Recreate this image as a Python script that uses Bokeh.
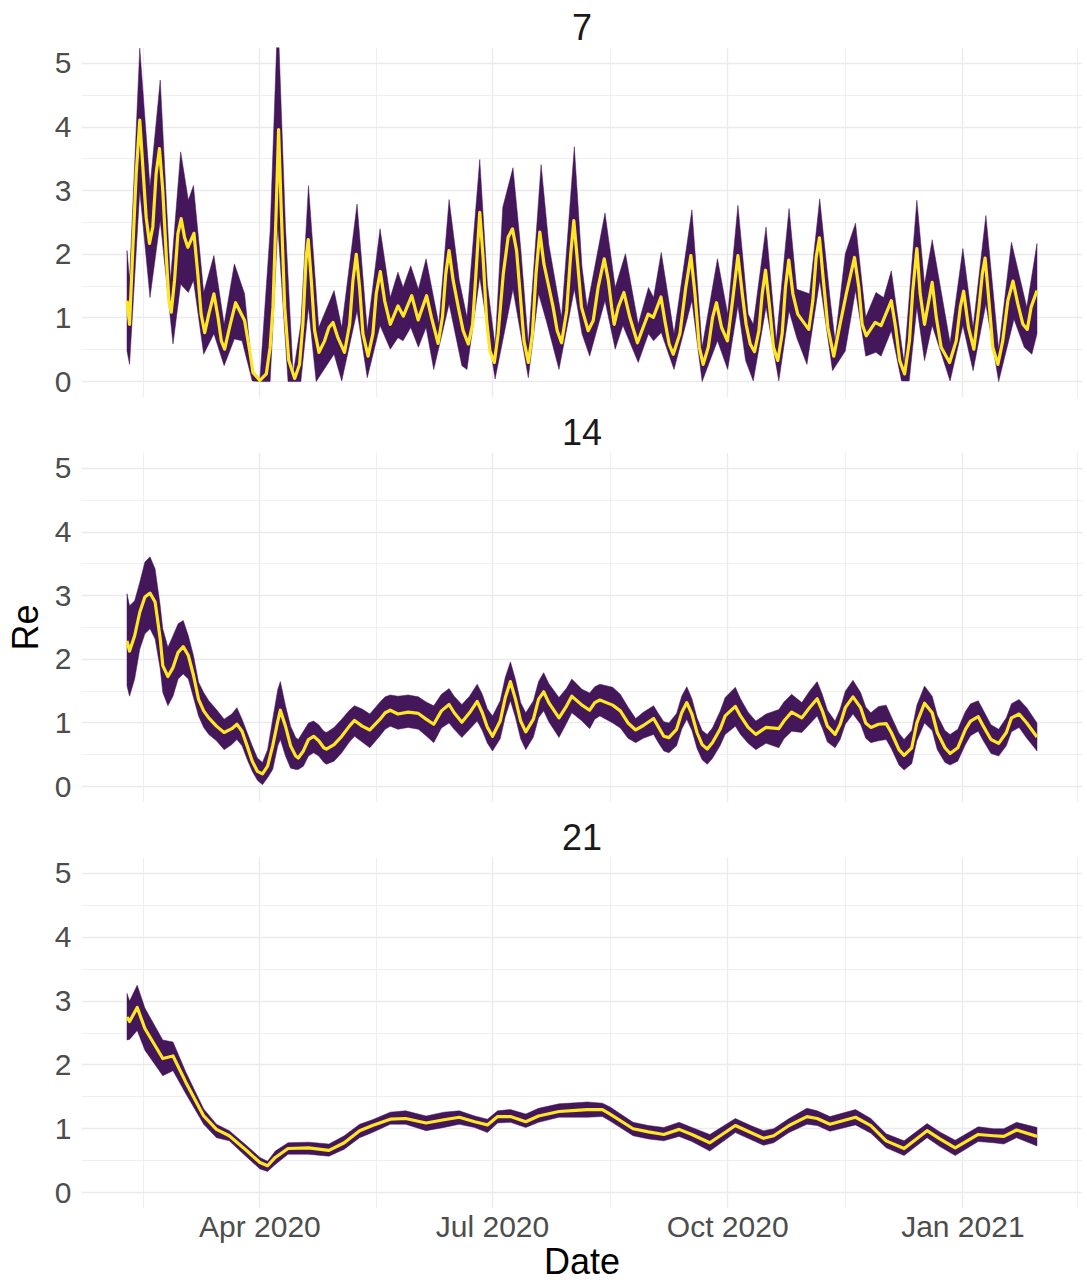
import pandas as pd
from bokeh.plotting import figure
from bokeh.layouts import column
from bokeh.models import Range1d, FixedTicker, DatetimeTickFormatter
from bokeh.embed import file_html
from bokeh.resources import INLINE

# Day offsets are days relative to BASE_DATE
BASE_DATE = "2020-04-01"
PANELS = ["7", "14", "21"]

# ---- window 7 ----
w7_med_days = [-52.0, -51.0, -49.7, -48.4, -47.0, -45.8, -44.5, -43.2, -41.9, -40.6, -39.3, -38.0, -36.6, -35.6, -34.7,
               -33.4, -32.1, -30.8, -29.5, -28.2, -25.8, -24.3, -23.0, -21.6, -20.0, -18.0, -16.4, -15.1, -13.8, -11.9,
               -9.5, -6.0, -4.0, -2.7, 0.0, 2.5, 4.0, 5.1, 6.4, 7.3, 8.3, 9.7, 11.3, 13.6, 15.5,
               16.8, 18.1, 18.9, 20.1, 21.4, 23.1, 25.3, 27.0, 28.6, 30.5, 33.1, 35.1, 36.4, 37.7, 39.0,
               40.3, 42.3, 44.2, 45.5, 47.1, 48.8, 51.0, 54.0, 56.1, 59.4, 61.9, 65.2, 67.1, 69.7, 71.4,
               72.7, 74.0, 75.6, 77.6, 79.5, 81.5, 83.2, 84.5, 86.0, 87.3, 88.7, 90.0, 91.7, 93.2, 95.2,
               97.1, 98.8, 100.4, 101.7, 103.3, 105.0, 106.6, 108.0, 109.5, 111.1, 112.8, 114.7, 116.3, 118.0, 120.0,
               121.6, 122.8, 124.1, 125.8, 128.4, 130.4, 132.3, 134.7, 136.3, 137.6, 138.6, 140.2, 142.4, 144.7, 147.7,
               149.9, 151.9, 153.9, 156.9, 158.4, 160.1, 161.7, 164.3, 166.6, 168.6, 170.2, 171.9, 173.4, 175.4, 177.1,
               178.6, 180.6, 182.9, 184.9, 187.0, 188.7, 190.2, 191.8, 193.5, 195.2, 196.5, 197.8, 199.4, 200.9, 202.6,
               204.3, 205.6, 206.9, 208.5, 210.4, 212.7, 214.7, 216.3, 217.6, 218.9, 220.2, 222.2, 224.5, 226.7, 229.4,
               232.6, 234.3, 235.6, 237.2, 240.7, 243.0, 247.0, 248.7, 250.3, 252.2, 254.1, 255.4, 257.0, 258.3, 260.0,
               263.0, 264.6, 266.5, 269.8, 272.4, 274.0, 275.3, 277.2, 279.3, 281.3, 282.6, 283.7, 285.2, 286.7, 288.7,
               290.6, 292.6, 294.6, 296.5, 298.5, 300.2, 301.7, 304.0]
w7_med_vals = [1.27, 0.90, 2.11, 3.27, 4.11, 3.37, 2.58, 2.17, 2.43, 3.27, 3.66, 3.00, 1.95, 1.27, 1.09,
               1.59, 2.32, 2.56, 2.27, 2.11, 2.33, 1.69, 1.06, 0.77, 1.06, 1.38, 1.01, 0.64, 0.51, 0.85,
               1.24, 0.96, 0.48, 0.14, 0.02, 0.12, 0.54, 1.17, 2.74, 3.96, 2.74, 1.17, 0.33, 0.05, 0.27,
               0.90, 1.95, 2.23, 1.59, 0.80, 0.46, 0.64, 0.85, 0.93, 0.69, 0.46, 0.90, 1.59, 2.00, 1.48,
               0.75, 0.40, 0.75, 1.38, 1.73, 1.27, 0.90, 1.19, 1.03, 1.35, 0.97, 1.35, 1.01, 0.60, 1.01,
               1.69, 2.06, 1.59, 1.17, 0.80, 0.59, 0.90, 1.69, 2.66, 1.95, 0.96, 0.48, 0.30, 0.75, 1.69,
               2.27, 2.40, 2.06, 1.43, 0.64, 0.30, 0.75, 1.69, 2.35, 1.85, 1.53, 1.17, 0.80, 0.61, 1.11,
               2.01, 2.53, 1.95, 1.17, 0.80, 0.96, 1.48, 1.93, 1.59, 1.17, 0.90, 1.17, 1.40, 1.01, 0.61,
               0.85, 1.06, 1.01, 1.33, 0.96, 0.59, 0.43, 0.75, 1.48, 1.98, 1.38, 0.54, 0.27, 0.54, 1.01,
               1.24, 0.85, 0.64, 1.27, 1.98, 1.38, 0.90, 0.59, 0.47, 0.80, 1.38, 1.75, 1.17, 0.54, 0.33,
               0.75, 1.48, 1.91, 1.38, 1.06, 0.93, 0.82, 1.27, 1.95, 2.26, 1.69, 0.85, 0.40, 0.85, 1.38,
               1.95, 1.48, 0.90, 0.72, 0.93, 0.88, 1.27, 0.85, 0.33, 0.12, 0.64, 1.43, 2.09, 1.38, 0.90,
               1.56, 1.01, 0.54, 0.30, 0.64, 1.17, 1.42, 0.85, 0.51, 1.17, 1.69, 1.94, 1.27, 0.54, 0.27,
               0.64, 1.27, 1.58, 1.22, 0.90, 0.82, 1.17, 1.43]
w7_up_days = [-52, -51, -47, -43, -39, -35, -31, -28, -26, -22, -18, -14, -10, -6, -3, 0, 4, 7, 10, 13, 16, 19, 23, 29, 32, 38, 42, 47, 51, 54, 56, 59, 62, 65, 70, 74, 78, 81, 86, 89, 92, 95, 99, 102, 105, 110, 113, 118, 123, 126, 128, 135, 139, 143, 148, 152, 154, 157, 162, 169, 173, 179, 183, 187, 191, 193, 198, 202, 207, 210, 215, 219, 223, 225, 229, 233, 237, 241, 244, 247, 252, 257, 260, 263, 270, 275, 279, 284, 289, 294, 300, 304]
w7_up_vals = [2.06, 1.60, 5.24, 3.06, 4.74, 1.59, 3.61, 2.85, 3.08, 1.40, 1.98, 0.90, 1.85, 1.38, 0.17, 0.04, 2.37, 5.80, 2.43, 0.12, 0.90, 3.08, 0.85, 1.43, 0.85, 2.79, 0.80, 2.40, 1.32, 1.72, 1.48, 1.82, 1.45, 1.93, 0.90, 2.86, 1.59, 1.01, 3.49, 1.53, 0.56, 2.74, 3.36, 2.11, 0.59, 3.41, 2.16, 1.01, 3.69, 1.80, 1.17, 2.65, 1.48, 2.01, 0.90, 1.48, 1.32, 2.03, 0.75, 2.70, 0.54, 1.93, 1.06, 2.77, 1.06, 0.90, 2.43, 0.64, 2.72, 1.45, 1.38, 2.87, 1.32, 0.64, 2.01, 2.49, 1.01, 1.40, 1.32, 1.74, 0.30, 2.85, 1.53, 2.23, 0.61, 2.09, 0.85, 2.61, 0.51, 2.19, 1.17, 2.17]
w7_lo_days = [-52, -51, -47, -43, -39, -34, -31, -28, -26, -22, -18, -14, -10, -7, -3, 0, 4, 7, 11, 16, 19, 22, 29, 32, 38, 42, 47, 51, 54, 56, 59, 62, 65, 68, 74, 79, 81, 86, 92, 99, 105, 109, 112, 117, 123, 126, 129, 135, 139, 142, 148, 152, 154, 157, 162, 169, 173, 179, 183, 187, 190, 193, 198, 203, 207, 210, 214, 219, 224, 229, 233, 237, 241, 243, 247, 251, 254, 257, 260, 263, 270, 275, 279, 284, 289, 295, 299, 302, 304]
w7_lo_vals = [0.48, 0.27, 3.00, 1.32, 2.53, 0.59, 1.53, 1.40, 1.59, 0.43, 0.75, 0.25, 0.67, 0.64, 0.01, 0.00, 0.00, 2.45, 0.00, 0.00, 1.17, 0.00, 0.43, 0.01, 1.11, 0.06, 0.88, 0.51, 0.69, 0.64, 0.85, 0.54, 0.85, 0.19, 1.22, 0.25, 0.19, 1.64, 0.04, 1.45, 0.06, 1.38, 0.96, 0.19, 1.45, 0.75, 0.40, 1.27, 0.51, 0.88, 0.30, 0.75, 0.64, 0.77, 0.19, 1.27, 0.00, 0.64, 0.19, 1.19, 0.33, 0.01, 1.17, 0.01, 1.11, 0.69, 0.27, 1.59, 0.17, 0.48, 1.43, 0.40, 0.46, 0.40, 0.80, 0.01, 0.01, 1.17, 0.33, 0.88, 0.01, 0.88, 0.17, 1.22, 0.00, 0.98, 0.54, 0.43, 0.75]

# ---- window 14 (median, upper and lower read on the same days) ----
w14_days = [-52, -51, -49, -47, -45, -43, -41, -39, -38, -36, -34, -32, -30, -28, -26, -24, -22, -20, -17, -14,
            -11, -9, -7, -5, -3, -1, 1, 3, 5, 7, 8, 10, 12, 14, 15, 17, 19, 21, 23, 25,
            26, 29, 32, 35, 37, 40, 43, 47, 49, 51, 54, 58, 62, 65, 68, 71, 74, 76, 79, 82,
            85, 87, 89, 91, 94, 96, 98, 100, 102, 104, 107, 109, 111, 113, 117, 120, 122,
            126, 129, 131, 133, 138, 141, 144, 147, 150, 154, 156, 158, 160, 163, 165, 167, 169, 171, 173, 175,
            177, 180, 182, 186, 188, 191, 194, 198, 203, 205, 208, 212, 215, 218, 220, 222, 225, 227, 229, 232,
            235, 237, 239, 242, 245, 247, 250, 252, 255, 257, 260, 263, 265, 268, 270, 273, 276, 278, 281, 283,
            286, 289, 292, 294, 297, 300, 304]
w14_med_vals = [2.29, 2.13, 2.37, 2.74, 2.98, 3.04, 2.90, 2.32, 1.90, 1.73, 1.87, 2.11, 2.20, 2.06, 1.75, 1.37, 1.19, 1.08, 0.95, 0.85,
                0.91, 0.98, 0.87, 0.64, 0.40, 0.24, 0.20, 0.32, 0.64, 1.03, 1.20, 0.95, 0.64, 0.48, 0.45, 0.56, 0.74, 0.79, 0.72, 0.61,
                0.59, 0.66, 0.79, 0.95, 1.04, 0.95, 0.89, 1.06, 1.16, 1.20, 1.14, 1.17, 1.15, 1.06, 0.98, 1.19, 1.29, 1.16, 1.01, 1.16,
                1.34, 1.16, 0.93, 0.79, 1.03, 1.40, 1.65, 1.37, 1.03, 0.86, 1.06, 1.37, 1.49, 1.32, 1.08, 1.27, 1.42,
                1.28, 1.20, 1.32, 1.36, 1.28, 1.19, 1.00, 0.89, 0.96, 1.07, 0.93, 0.79, 0.77, 0.90, 1.16, 1.32, 1.14, 0.85, 0.66, 0.59,
                0.69, 0.90, 1.11, 1.26, 1.11, 0.93, 0.82, 0.93, 0.91, 1.03, 1.17, 1.08, 1.24, 1.38, 1.19, 0.95, 0.82, 0.98, 1.24, 1.41,
                1.24, 1.00, 0.93, 0.98, 0.99, 0.85, 0.58, 0.49, 0.61, 1.00, 1.31, 1.16, 0.85, 0.61, 0.52, 0.61, 0.90, 1.03, 1.10, 0.95,
                0.74, 0.68, 0.85, 1.08, 1.14, 1.00, 0.78]
w14_up_vals = [3.03, 2.84, 2.92, 3.21, 3.53, 3.61, 3.42, 2.84, 2.48, 2.19, 2.37, 2.56, 2.61, 2.37, 2.06, 1.64, 1.48, 1.35, 1.21, 1.06,
               1.14, 1.24, 1.06, 0.85, 0.64, 0.45, 0.38, 0.58, 1.06, 1.53, 1.65, 1.27, 0.95, 0.77, 0.74, 0.87, 1.00, 1.03, 0.97, 0.87,
               0.85, 0.93, 1.06, 1.20, 1.27, 1.22, 1.14, 1.33, 1.41, 1.44, 1.42, 1.44, 1.41, 1.33, 1.27, 1.45, 1.54, 1.42, 1.29, 1.42,
               1.61, 1.45, 1.22, 1.11, 1.35, 1.72, 1.96, 1.68, 1.32, 1.16, 1.35, 1.65, 1.79, 1.62, 1.40, 1.55, 1.69,
               1.53, 1.47, 1.57, 1.61, 1.56, 1.45, 1.25, 1.07, 1.17, 1.27, 1.14, 1.02, 1.00, 1.15, 1.42, 1.57, 1.38, 1.08, 0.88, 0.82,
               0.92, 1.18, 1.40, 1.56, 1.38, 1.17, 1.03, 1.14, 1.21, 1.33, 1.45, 1.32, 1.50, 1.65, 1.45, 1.20, 1.03, 1.22, 1.50, 1.67,
               1.48, 1.25, 1.16, 1.26, 1.28, 1.10, 0.84, 0.74, 0.88, 1.28, 1.58, 1.42, 1.12, 0.88, 0.82, 0.90, 1.18, 1.30, 1.35, 1.20,
               0.97, 0.90, 1.08, 1.30, 1.37, 1.24, 1.00]
w14_lo_vals = [1.58, 1.42, 1.69, 2.16, 2.40, 2.48, 2.32, 1.85, 1.48, 1.27, 1.42, 1.69, 1.77, 1.69, 1.40, 1.11, 0.93, 0.82, 0.72, 0.58,
               0.66, 0.74, 0.64, 0.43, 0.24, 0.10, 0.03, 0.14, 0.27, 0.64, 0.74, 0.48, 0.29, 0.27, 0.27, 0.32, 0.48, 0.53, 0.48, 0.38,
               0.35, 0.40, 0.53, 0.70, 0.79, 0.70, 0.61, 0.80, 0.90, 0.95, 0.90, 0.93, 0.90, 0.80, 0.69, 0.92, 1.00, 0.90, 0.77, 0.90,
               1.03, 0.88, 0.68, 0.56, 0.75, 1.10, 1.35, 1.08, 0.75, 0.58, 0.78, 1.08, 1.19, 1.02, 0.77, 1.00, 1.16,
               1.03, 0.91, 1.06, 1.11, 1.00, 0.92, 0.76, 0.69, 0.76, 0.82, 0.68, 0.56, 0.53, 0.64, 0.90, 1.06, 0.88, 0.60, 0.42, 0.35,
               0.44, 0.64, 0.82, 0.95, 0.82, 0.68, 0.58, 0.68, 0.61, 0.75, 0.87, 0.85, 0.98, 1.11, 0.92, 0.70, 0.61, 0.74, 0.98, 1.14,
               0.98, 0.76, 0.69, 0.72, 0.74, 0.60, 0.34, 0.26, 0.36, 0.72, 1.00, 0.88, 0.58, 0.38, 0.34, 0.40, 0.66, 0.80, 0.87, 0.72,
               0.52, 0.48, 0.64, 0.86, 0.93, 0.76, 0.56]

# ---- window 21 ----
w21_days = [-52, -51, -48, -45, -38, -34, -29, -22, -17, -12, -5, 0, 3, 6, 11, 19, 27, 33, 39, 44, 51, 57, 65, 72, 78, 84, 89, 93, 98, 104, 109, 117, 125, 128, 134, 137, 146, 152, 158, 164, 169, 176, 186, 192, 197, 201, 207, 214, 218, 223, 233, 239, 245, 252, 261, 266, 272, 281, 287, 291, 296, 304]
w21_med_vals = [2.75, 2.68, 2.90, 2.57, 2.10, 2.14, 1.73, 1.20, 0.99, 0.89, 0.65, 0.47, 0.42, 0.55, 0.69, 0.70, 0.66, 0.78, 0.97, 1.05, 1.15, 1.16, 1.09, 1.14, 1.18, 1.11, 1.06, 1.19, 1.19, 1.11, 1.20, 1.27, 1.29, 1.30, 1.30, 1.23, 1.00, 0.95, 0.91, 0.99, 0.91, 0.78, 1.05, 0.94, 0.85, 0.89, 1.05, 1.19, 1.16, 1.07, 1.18, 1.05, 0.81, 0.69, 0.97, 0.84, 0.70, 0.91, 0.89, 0.88, 0.98, 0.88]
w21_up_vals = [3.12, 3.00, 3.25, 2.89, 2.39, 2.36, 1.89, 1.31, 1.07, 0.97, 0.73, 0.55, 0.49, 0.65, 0.78, 0.79, 0.76, 0.89, 1.07, 1.14, 1.26, 1.28, 1.20, 1.26, 1.28, 1.20, 1.15, 1.28, 1.30, 1.23, 1.32, 1.39, 1.41, 1.42, 1.40, 1.34, 1.10, 1.05, 1.02, 1.10, 1.02, 0.91, 1.16, 1.05, 0.97, 1.00, 1.16, 1.32, 1.28, 1.19, 1.30, 1.16, 0.92, 0.81, 1.08, 0.95, 0.82, 1.03, 1.00, 1.00, 1.10, 1.02]
w21_lo_vals = [2.39, 2.40, 2.54, 2.23, 1.83, 1.91, 1.55, 1.07, 0.86, 0.81, 0.55, 0.37, 0.33, 0.44, 0.60, 0.60, 0.57, 0.68, 0.86, 0.94, 1.07, 1.07, 0.97, 1.02, 1.07, 1.02, 0.94, 1.09, 1.10, 1.02, 1.10, 1.18, 1.18, 1.18, 1.19, 1.12, 0.89, 0.84, 0.81, 0.88, 0.80, 0.65, 0.94, 0.83, 0.74, 0.78, 0.94, 1.07, 1.05, 0.96, 1.06, 0.93, 0.70, 0.58, 0.86, 0.72, 0.58, 0.80, 0.78, 0.76, 0.86, 0.73]

Y_TICKS = [0, 1, 2, 3, 4, 5]
Y_MINOR = [0.5, 1.5, 2.5, 3.5, 4.5]
X_TICK_DATES = ["2020-01-01", "2020-04-01", "2020-07-01", "2020-10-01", "2021-01-01", "2021-04-01"]

RIBBON = "#44175A"
LINE = "#FDE725"
GRID = "#EBEBEB"
FONT = "Liberation Sans"

base = pd.Timestamp(BASE_DATE)


def to_dt(days):
    return [(base + pd.Timedelta(days=float(d))) for d in days]


def ms(ts):
    return pd.Timestamp(ts).value / 1e6


all_days = w7_med_days + w14_days + w21_days
dmin, dmax = min(all_days), max(all_days)
pad = (dmax - dmin) * 0.05
xr = Range1d(ms(base + pd.Timedelta(days=dmin - pad)), ms(base + pd.Timedelta(days=dmax + pad)))

xt = [ms(d) for d in X_TICK_DATES]
x_major = xt[1:-1]
x_minor = [(a + b) / 2 for a, b in zip(xt[:-1], xt[1:])]

series = [
    (w7_med_days, w7_med_vals, w7_up_days, w7_up_vals, w7_lo_days, w7_lo_vals),
    (w14_days, w14_med_vals, w14_days, w14_up_vals, w14_days, w14_lo_vals),
    (w21_days, w21_med_vals, w21_days, w21_up_vals, w21_days, w21_lo_vals),
]

figs = []
for i, (title, s) in enumerate(zip(PANELS, series)):
    md, mv, ud, uv, ld, lv = s
    last = i == 2
    p = figure(width=1085, height=474 if last else 405, x_axis_type="datetime",
               x_range=xr, y_range=Range1d(-0.25, 5.25),
               output_backend="svg", toolbar_location=None,
               min_border_left=81, min_border_right=3, min_border_top=47,
               min_border_bottom=75 if last else 8)
    p.outline_line_color = None
    p.background_fill_color = "white"
    p.border_fill_color = "white"
    p.title.text = title
    p.title.align = "center"
    p.title.text_font = FONT
    p.title.text_font_size = "36px"
    p.title.text_font_style = "normal"
    p.title.text_color = "#1A1A1A"
    p.title.standoff = 16

    yt = FixedTicker(ticks=Y_TICKS, minor_ticks=Y_MINOR)
    p.yaxis.ticker = yt
    p.ygrid.ticker = yt
    xtk = FixedTicker(ticks=x_major, minor_ticks=x_minor)
    p.xaxis.ticker = xtk
    p.xgrid.ticker = xtk
    for g in (p.xgrid, p.ygrid):
        g.grid_line_color = GRID
        g.grid_line_width = 1.4
        g.minor_grid_line_color = GRID
        g.minor_grid_line_width = 0.8

    for ax in (p.xaxis, p.yaxis):
        ax.axis_line_color = None
        ax.major_tick_line_color = None
        ax.minor_tick_line_color = None
        ax.major_tick_out = 0
        ax.major_tick_in = 0
        ax.minor_tick_out = 0
        ax.major_label_text_font = FONT
        ax.major_label_text_font_size = "30px"
        ax.major_label_text_color = "#4D4D4D"
        ax.axis_label_text_font = FONT
        ax.axis_label_text_font_size = "36px"
        ax.axis_label_text_font_style = "normal"
        ax.axis_label_text_color = "black"
    p.yaxis.major_label_standoff = 10
    p.xaxis.major_label_standoff = 1
    p.xaxis.formatter = DatetimeTickFormatter(months="%b %Y", days="%b %Y", years="%b %Y")
    if i == 1:
        p.yaxis.axis_label = "Re"
        p.yaxis.axis_label_standoff = 6
    if last:
        p.xaxis.axis_label = "Date"
        p.xaxis.axis_label_standoff = -5
    else:
        p.xaxis.visible = False

    xs = to_dt(ud) + to_dt(ld)[::-1]
    ys = list(uv) + list(lv)[::-1]
    p.patch(xs, ys, fill_color=RIBBON, line_color=RIBBON, line_width=0.5)
    p.line(to_dt(md), mv, line_color=LINE, line_width=3.2, line_join="round")
    figs.append(p)

layout = column(*figs, spacing=0)
open("out.html", "w").write(file_html(layout, INLINE))
